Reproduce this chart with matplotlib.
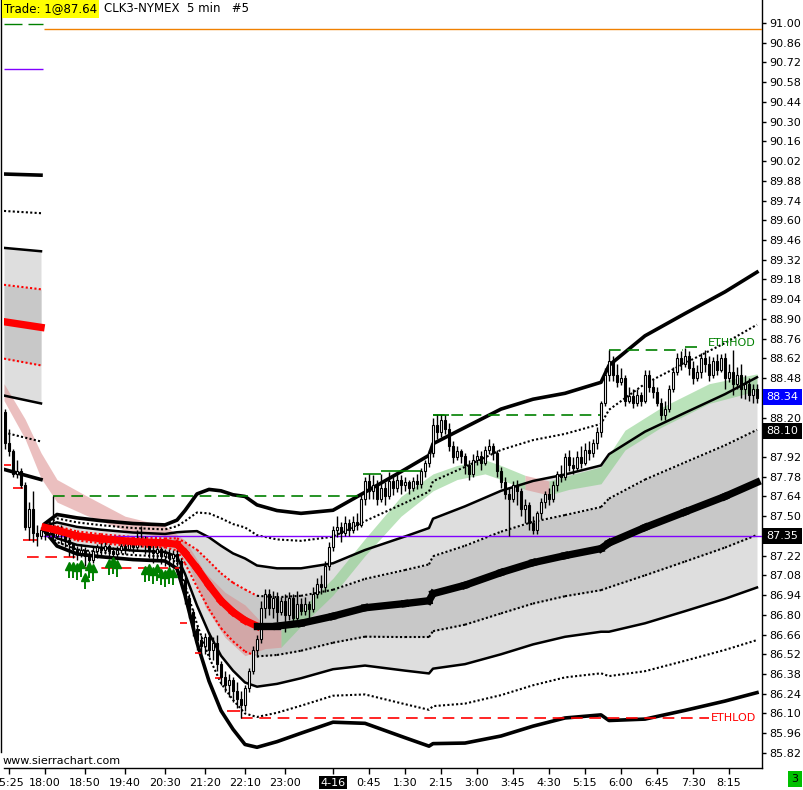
import numpy as np
import matplotlib
matplotlib.use("Agg")
import matplotlib.pyplot as plt
from matplotlib.collections import LineCollection

plt.rcParams['font.family'] = ['DejaVu Sans']

# 5 min bars, bar 0 = 18:00 session open (bars before 0 are the prior session)
first_bar = -10
first_open = 88.24
closes = [
    88.02, 87.96, 87.80, 87.82, 87.72, 87.42, 87.55, 87.38, 87.36, 87.40,
    87.38, 87.42, 87.36, 87.40, 87.37, 87.33, 87.30, 87.27, 87.24, 87.26,
    87.22, 87.19, 87.25, 87.28, 87.26, 87.29, 87.25, 87.23, 87.26, 87.29,
    87.27, 87.30, 87.28, 87.31, 87.34, 87.30, 87.26, 87.24, 87.27, 87.22,
    87.24, 87.20, 87.23, 87.18, 87.05, 86.92, 86.82, 86.70, 86.62, 86.58,
    86.64, 86.55, 86.60, 86.45, 86.36, 86.30, 86.34, 86.26, 86.20, 86.16,
    86.28, 86.40, 86.55, 86.63, 86.85, 86.95, 86.85, 86.92, 86.82, 86.90,
    86.80, 86.92, 86.78, 86.88, 86.83, 86.88, 86.84, 86.95, 87.02, 87.00,
    87.15, 87.28, 87.40, 87.42, 87.38, 87.45, 87.40, 87.46, 87.44, 87.62,
    87.75, 87.68, 87.72, 87.62, 87.70, 87.64, 87.75, 87.70, 87.76, 87.72,
    87.74, 87.70, 87.75, 87.73, 87.82, 87.88, 87.95, 88.15, 88.10, 88.18,
    88.12, 88.00, 87.92, 87.96, 87.93, 87.86, 87.80, 87.90, 87.93, 87.88,
    87.97, 88.00, 87.95, 87.82, 87.74, 87.66, 87.62, 87.72, 87.68, 87.55,
    87.58, 87.45, 87.40, 87.52, 87.60, 87.66, 87.62, 87.72, 87.80, 87.78,
    87.92, 87.86, 87.84, 87.92, 87.88, 87.97, 87.95, 88.02, 88.10, 88.30,
    88.50, 88.60, 88.50, 88.45, 88.48, 88.32, 88.35, 88.30, 88.36, 88.32,
    88.50, 88.42, 88.38, 88.30, 88.22, 88.26, 88.40, 88.52, 88.62, 88.58,
    88.64, 88.55, 88.48, 88.52, 88.62, 88.58, 88.50, 88.60, 88.54, 88.62,
    88.48, 88.52, 88.44, 88.50, 88.40, 88.44, 88.36, 88.40, 88.34,
]
highs = [
    88.26, 88.12, 87.98, 87.90, 87.84, 87.74, 87.60, 87.68, 87.44, 87.42,
    87.46, 87.45, 87.64, 87.43, 87.44, 87.38, 87.35, 87.31, 87.29, 87.30,
    87.28, 87.25, 87.28, 87.30, 87.31, 87.33, 87.30, 87.28, 87.29, 87.32,
    87.31, 87.33, 87.32, 87.40, 87.43, 87.36, 87.32, 87.30, 87.30, 87.28,
    87.27, 87.27, 87.26, 87.26, 87.20, 87.07, 86.95, 86.84, 86.73, 86.66,
    86.67, 86.68, 86.64, 86.66, 86.47, 86.40, 86.38, 86.36, 86.32, 86.26,
    86.30, 86.42, 86.58, 86.66, 86.90, 86.98, 86.98, 86.97, 86.96, 86.93,
    86.95, 86.96, 86.95, 86.97, 86.92, 86.93, 86.90, 87.00, 87.06, 87.08,
    87.18, 87.32, 87.43, 87.50, 87.46, 87.50, 87.48, 87.50, 87.52, 87.65,
    87.78, 87.80, 87.79, 87.76, 87.80, 87.74, 87.81, 87.78, 87.80, 87.79,
    87.78, 87.76, 87.78, 87.80, 87.84, 87.90, 87.97, 88.20, 88.22, 88.22,
    88.22, 88.16, 88.03, 88.00, 87.98, 87.95, 87.90, 87.94, 87.97, 87.96,
    88.00, 88.05, 88.02, 87.97, 87.85, 87.78, 87.70, 87.75, 87.76, 87.70,
    87.62, 87.60, 87.50, 87.54, 87.63, 87.68, 87.70, 87.75, 87.82, 87.86,
    87.95, 87.97, 87.92, 87.96, 88.00, 88.02, 88.03, 88.05, 88.13, 88.32,
    88.55, 88.68, 88.64, 88.58, 88.55, 88.50, 88.42, 88.40, 88.40, 88.38,
    88.54, 88.54, 88.47, 88.42, 88.34, 88.32, 88.43, 88.56, 88.66, 88.67,
    88.69, 88.67, 88.60, 88.57, 88.66, 88.68, 88.64, 88.63, 88.65, 88.65,
    88.66, 88.58, 88.68, 88.56, 88.58, 88.50, 88.48, 88.44, 88.44,
]
lows = [
    87.98, 87.93, 87.78, 87.77, 87.70, 87.40, 87.33, 87.32, 87.29, 87.34,
    87.33, 87.35, 87.33, 87.34, 87.30, 87.28, 87.22, 87.20, 87.19, 87.21,
    87.15, 87.13, 87.17, 87.20, 87.22, 87.23, 87.20, 87.17, 87.20, 87.24,
    87.23, 87.25, 87.24, 87.26, 87.28, 87.23, 87.20, 87.17, 87.19, 87.16,
    87.15, 87.14, 87.13, 87.15, 87.02, 86.88, 86.78, 86.65, 86.55, 86.52,
    86.52, 86.50, 86.48, 86.40, 86.30, 86.25, 86.22, 86.18, 86.14, 86.07,
    86.12, 86.25, 86.38, 86.50, 86.60, 86.78, 86.80, 86.78, 86.75, 86.80,
    86.68, 86.76, 86.72, 86.75, 86.80, 86.80, 86.78, 86.82, 86.92, 86.95,
    86.96, 87.12, 87.25, 87.35, 87.32, 87.36, 87.36, 87.38, 87.40, 87.42,
    87.58, 87.62, 87.62, 87.58, 87.60, 87.58, 87.62, 87.65, 87.67, 87.66,
    87.68, 87.66, 87.68, 87.69, 87.70, 87.78, 87.85, 87.92, 88.05, 88.06,
    88.08, 87.96, 87.88, 87.90, 87.88, 87.80, 87.76, 87.78, 87.86, 87.83,
    87.86, 87.94, 87.90, 87.78, 87.70, 87.62, 87.36, 87.60, 87.58, 87.50,
    87.45, 87.40, 87.37, 87.37, 87.48, 87.56, 87.58, 87.60, 87.68, 87.74,
    87.76, 87.82, 87.80, 87.82, 87.84, 87.86, 87.90, 87.92, 87.98, 88.06,
    88.28, 88.46, 88.46, 88.42, 88.43, 88.28, 88.30, 88.27, 88.28, 88.28,
    88.30, 88.38, 88.34, 88.28, 88.18, 88.18, 88.24, 88.38, 88.50, 88.54,
    88.56, 88.50, 88.44, 88.46, 88.48, 88.52, 88.46, 88.48, 88.50, 88.52,
    88.40, 88.45, 88.36, 88.40, 88.34, 88.33, 88.32, 88.30, 88.30,
]

# VWAP and its standard deviation, prior session and current session
prev_vwap_bars = [-10.25, -1]
prev_vwap = [88.88, 88.84]
prev_sd = [0.262, 0.270]
vwap_bars = [0, 3, 8, 14, 22, 30, 33, 35, 38, 41, 44, 47, 50, 53, 58, 64, 72, 80,
             90, 96, 97, 105, 114, 122, 130, 139, 141, 150, 160, 170, 178]
vwap = [87.42, 87.40, 87.36, 87.34, 87.32, 87.31, 87.30, 87.24, 87.13, 87.01,
        86.90, 86.82, 86.76, 86.72, 86.72, 86.74, 86.79, 86.85, 86.88, 86.90,
        86.95, 87.01, 87.10, 87.17, 87.22, 87.27, 87.31, 87.42, 87.53, 87.64, 87.74]
vwap_sd = [0.007, 0.028, 0.032, 0.032, 0.032, 0.032, 0.043, 0.075, 0.132, 0.170,
           0.195, 0.208, 0.220, 0.215, 0.205, 0.195, 0.188, 0.205, 0.238, 0.258,
           0.266, 0.280, 0.290, 0.290, 0.288, 0.295, 0.315, 0.340, 0.352, 0.363, 0.373]

# moving average ribbon, 1 = rising (green) segment, 0 = falling (pink)
ema_bars = [-10.25, -5, -1, 3, 10, 20, 30, 35, 40, 45, 50, 55, 59, 64, 72, 80, 89,
            97, 103, 110, 114, 120, 126, 131, 139, 145, 154, 166, 178]
ema_mid = [88.38, 88.12, 87.86, 87.68, 87.58, 87.45, 87.39, 87.28, 86.98, 86.80,
           86.69, 86.64, 86.63, 86.78, 87.00, 87.28, 87.57, 87.74, 87.81, 87.85,
           87.81, 87.74, 87.70, 87.74, 87.79, 88.04, 88.20, 88.37, 88.45]
ema_half = [0.06, 0.07, 0.09, 0.08, 0.07, 0.05, 0.04, 0.05, 0.12, 0.16,
            0.18, 0.08, 0.06, 0.06, 0.06, 0.06, 0.07, 0.06, 0.05, 0.05,
            0.05, 0.05, 0.05, 0.05, 0.06, 0.07, 0.07, 0.07, 0.06]
ema_up = [0] * 12 + [1] * 9 + [0] + [1] * 6

# swing high / low lines (start bar, end bar, price)
high_dashed = [(2, 79, 87.64), (97, 138.8, 88.22), (141, 159.5, 88.68)]
high_solid = [(79.5, 84, 87.80), (84, 94, 87.82), (97, 101, 88.22), (160, 163, 88.70)]
low_dashed = [(-4.5, 9, 87.21), (9.5, 33.5, 87.13), (49, 166, 86.07)]
low_solid = [(-10.2, -8.6, 87.86), (-8, -5.5, 87.70), (-5.5, -2, 87.33),
             (33.8, 35.5, 86.74), (37.5, 39, 86.53), (42.5, 44.2, 86.35), (45.5, 48.8, 86.12)]

arrow_bars = [6, 7, 8, 9, 10, 11, 12, 16, 17, 18, 25, 26, 27, 28, 29, 30, 31, 32]
arrow_tips = [87.17, 87.17, 87.16, 87.18, 87.09, 87.17, 87.15, 87.19, 87.20, 87.18,
              87.14, 87.15, 87.13, 87.15, 87.12, 87.11, 87.13, 87.12]

purple_level = 87.36
top_level = 90.96
time_bars = [-9, 0, 10, 20, 30, 40, 50, 60, 72, 81, 90, 99, 108, 117, 126, 135, 144, 153, 162, 171]
time_labels = ['15:25', '18:00', '18:50', '19:40', '20:30', '21:20', '22:10', '23:00', '4-16',
               '0:45', '1:30', '2:15', '3:00', '3:45', '4:30', '5:15', '6:00', '6:45', '7:30', '8:15']
price_ticks = np.round(np.arange(85.82, 91.01, 0.14), 2)
hidden_ticks = [88.34, 88.06, 87.36]   # covered by the value boxes

W, H = 804, 790
fig = plt.figure(figsize=(W / 100, H / 100), dpi=100)
ax = fig.add_axes([4 / W, 22 / H, 758 / W, 768 / H])
ax.set_xlim(-10.25, 179.25)
ax.set_ylim(85.713, 91.163)

GREEN = '#008000'
RIBBON_PINK = (0.86, 0.55, 0.55)
RIBBON_GREEN = (0.51, 0.80, 0.51)


def draw_session(bx, vw, sd):
    bx = np.asarray(bx, float)
    vw = np.asarray(vw)
    sd = np.asarray(sd)
    ax.fill_between(bx, vw - 2 * sd, vw + 2 * sd, color='#dedede', lw=0, zorder=1)
    ax.fill_between(bx, vw - sd, vw + sd, color='#c8c8c8', lw=0, zorder=1.1)
    for s in (1, -1):
        ax.plot(bx, vw + s * 4 * sd, color='black', lw=2.6, zorder=3)
        ax.plot(bx, vw + s * 2 * sd, color='black', lw=1.8, zorder=3)
        ax.plot(bx, vw + s * 3 * sd, color='black', lw=1.5, ls=(0, (1, 1.1)), zorder=3)
    cols = ['red' if d < 0 else 'black' for d in np.diff(vw)]
    for s in (1, -1):
        y = vw + s * sd
        segs = [[(bx[i], y[i]), (bx[i + 1], y[i + 1])] for i in range(len(bx) - 1)]
        ax.add_collection(LineCollection(segs, colors=cols, lw=1.5,
                                         linestyles=[(0, (1, 1.1))], zorder=3))
    segs = [[(bx[i], vw[i]), (bx[i + 1], vw[i + 1])] for i in range(len(bx) - 1)]
    ax.add_collection(LineCollection(segs, colors=cols, lw=5.3, zorder=6,
                                     capstyle='projecting'))


draw_session(prev_vwap_bars, prev_vwap, prev_sd)
draw_session(vwap_bars, vwap, vwap_sd)

# ribbon, grouped into runs of equal direction
eb = np.asarray(ema_bars, float)
em = np.asarray(ema_mid)
eh = np.asarray(ema_half)
start = 0
for i in range(1, len(ema_up) + 1):
    if i == len(ema_up) or ema_up[i] != ema_up[start]:
        sl = slice(start, i + 1)
        ax.fill_between(eb[sl], em[sl] - eh[sl], em[sl] + eh[sl], lw=0, alpha=0.55,
                        color=RIBBON_GREEN if ema_up[start] else RIBBON_PINK, zorder=2)
        start = i

# candles
bars = np.arange(first_bar, first_bar + len(closes))
c = np.asarray(closes)
o = np.r_[first_open, c[:-1]]
ax.vlines(bars, lows, highs, color='black', lw=1, zorder=4)
up = c >= o
ax.bar(bars[up], (c - o)[up], bottom=o[up], width=0.72, color='white',
       edgecolor='black', linewidth=0.8, zorder=4.5)
ax.bar(bars[~up], (o - c)[~up], bottom=c[~up], width=0.72, color='black',
       edgecolor='black', linewidth=0.8, zorder=4.5)

# swing lines
for x0, x1, p in high_dashed:
    ax.hlines(p, x0, x1, color=GREEN, lw=1.2, ls=(0, (7, 4)), zorder=3.5)
for x0, x1, p in high_solid:
    ax.hlines(p, x0, x1, color=GREEN, lw=1.2, zorder=3.5)
for x0, x1, p in low_dashed:
    ax.hlines(p, x0, x1, color='red', lw=1.2, ls=(0, (7, 4)), zorder=3.5)
for x0, x1, p in low_solid:
    ax.hlines(p, x0, x1, color='red', lw=1.2, zorder=3.5)
ax.text(165.75, 88.73, 'ETHHOD', color=GREEN, fontsize=8, va='center', ha='left', zorder=7)
ax.text(166.5, 86.07, 'ETHLOD', color='red', fontsize=8, va='center', ha='left', zorder=7)

# buy arrows
tips = np.asarray(arrow_tips)
ax.vlines(arrow_bars, tips - 0.11, tips - 0.01, color=GREEN, lw=1.4, zorder=4.8)
ax.plot(arrow_bars, tips - 0.02, ls='none', marker='^', ms=6, color=GREEN, zorder=4.8)

# horizontal reference lines
ax.hlines(purple_level, -0.5, 179.25, color='#8000ff', lw=1, zorder=3.6)
ax.hlines(top_level, -0.25, 179.25, color='#f08000', lw=1, zorder=3.6)
ax.hlines(90.99, -10.25, -5.75, color=GREEN, lw=1, zorder=3.6)
ax.hlines(90.99, -4.25, -0.5, color=GREEN, lw=1, zorder=3.6)
ax.hlines(90.67, -10.25, -0.5, color='#8000ff', lw=1, zorder=3.6)

# axes styling
for side in ('top', 'left'):
    ax.spines[side].set_visible(False)
ax.spines['right'].set_linewidth(1)
ax.spines['bottom'].set_linewidth(1)
ax.yaxis.tick_right()
ax.set_yticks(price_ticks)
ax.set_yticklabels(['' if p in hidden_ticks else f'{p:.2f}' for p in price_ticks])
ax.tick_params(axis='y', length=3, width=1, pad=2, labelsize=8)
ax.set_xticks(time_bars)
ax.set_xticklabels(time_labels)
ax.tick_params(axis='x', length=4, width=1, pad=3, labelsize=8)
lab = ax.get_xticklabels()[time_labels.index('4-16')]
lab.set_color('white')
lab.set_bbox(dict(facecolor='black', edgecolor='none', pad=1.2))

# value boxes on the price scale
for price, txt, bg in ((88.346, '88.34', '#0000ff'), (88.104, '88.10', 'black'),
                       (purple_level, '87.35', 'black')):
    ax.text(1.006, price, txt, transform=ax.get_yaxis_transform(), color='white',
            fontsize=8, va='center', ha='left', clip_on=False, zorder=10,
            bbox=dict(facecolor=bg, edgecolor='none', pad=2.2))

fig.text(4 / W, 1 - 9 / H, 'Trade: 1@87.64', fontsize=8.5, va='center', ha='left',
         bbox=dict(facecolor='#ffff00', edgecolor='none', pad=1.5))
fig.text(104 / W, 1 - 9 / H, 'CLK3-NYMEX  5 min   #5', fontsize=8.5, va='center', ha='left')
fig.text(3 / W, 1 - 761 / H, 'www.sierrachart.com', fontsize=8, va='center', ha='left')
fig.text(795 / W, 1 - 779 / H, '3', fontsize=8, va='center', ha='center',
         bbox=dict(facecolor='#00c000', edgecolor='none', pad=2.5))
fig.add_artist(plt.Line2D([1.5 / W, 1.5 / W], [1 - 752 / H, 1], color='black', lw=1))

fig.savefig('out.png', dpi=100)
